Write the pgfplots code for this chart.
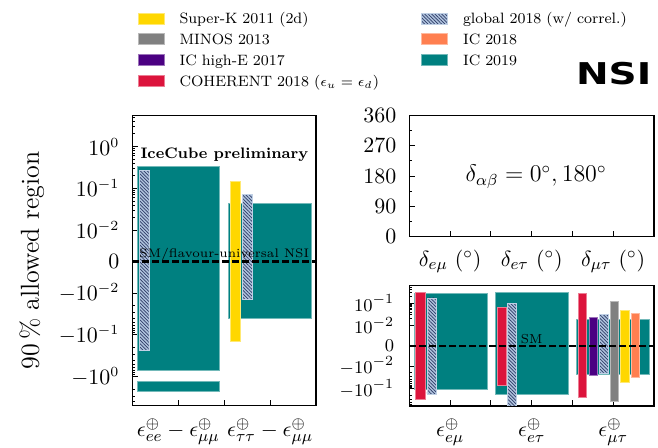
\documentclass[border=0pt]{standalone}
\usepackage{pgfplots}
\pgfplotsset{compat=1.18}
\usepackage{fontspec}
\newfontfamily\nsifont{DejaVu Sans}
\usetikzlibrary{patterns.meta}

\definecolor{cteal}{HTML}{008080}
\definecolor{cyellow}{HTML}{FFD700}
\definecolor{cgray}{HTML}{808080}
\definecolor{cpurple}{HTML}{4B0082}
\definecolor{cred}{HTML}{DC143C}
\definecolor{corange}{HTML}{FF7F50}
\definecolor{csteel}{HTML}{B0C4DE}
\definecolor{cnavy}{HTML}{2E3B66}

% symmetric-log y axis: linear inside |y|<0.01, one unit per decade outside;
% the argument is the height of the linear half-band in decade units
\newcommand\symlogresult{}
\pgfplotsset{
  symlog/.style={
    y coord trafo/.code={%
      \begingroup
      \pgfkeys{/pgf/fpu=true,/pgf/fpu/output format=fixed}%
      \pgfmathparse{abs(##1)<0.01 ? 100*#1*(##1) : ((##1)>0 ? 1 : -1)*(#1+2+ln(max(abs(##1),0.0001))/ln(10))}%
      \xdef\symlogresult{\pgfmathresult}%
      \endgroup
      \let\pgfmathresult\symlogresult
    },
    y coord inv trafo/.code={\def\pgfmathresult{##1}},
  },
  panel/.style={
    scale only axis,
    anchor=south west,
    axis line style={line width=0.7pt},
    tick align=inside,
    tick pos=left,
    major tick length=3pt,
    minor tick length=1.5pt,
    every tick/.style={black, line width=0.5pt},
    yticklabel style={font=\fontsize{10.5}{12}\selectfont, xshift=-3pt},
    xticklabel style={font=\fontsize{11}{13}\selectfont, yshift=-3pt},
    clip=true,
  },
}
\tikzset{
  errbox/.style={draw=#1!55!white, fill=#1, line width=0.4pt},
  hatchbox/.style={draw=csteel!80!white, fill=csteel, line width=0.4pt,
    postaction={pattern={Lines[angle=-45,distance=1.2pt,line width=0.35pt]}, pattern color=cnavy}},
  zeroline/.style={black, line width=1.2pt, dash pattern=on 3.3pt off 1.7pt},
}
% one allowed interval: style, x from, x to, lower bound, upper bound
\newcommand\band[5]{\addplot[#1, forget plot] coordinates {(#2,#4) (#3,#4) (#3,#5) (#2,#5)} -- cycle;}

\begin{document}
\begin{tikzpicture}
\path[use as bounding box] (0,0) rectangle (329pt,224pt);

% ---------------- diagonal NSI ----------------
\begin{axis}[panel, symlog=0.75,
  at={(66.2pt,21.2pt)}, width=91.8pt, height=145pt,
  xmin=0, xmax=4, ymin=-4.9, ymax=5.5,
  xtick={1,2,3},
  xticklabels={$\epsilon^{\oplus}_{ee}-\epsilon^{\oplus}_{\mu\mu}$,,$\epsilon^{\oplus}_{\tau\tau}-\epsilon^{\oplus}_{\mu\mu}$},
  ytick={-1,-0.1,-0.01,0,0.01,0.1,1},
  yticklabels={$-10^{0}$,$-10^{-1}$,$-10^{-2}$,$0$,$10^{-2}$,$10^{-1}$,$10^{0}$},
  minor ytick={-4,-3,-2,-0.9,-0.8,-0.7,-0.6,-0.5,-0.4,-0.3,-0.2,
    -0.09,-0.08,-0.07,-0.06,-0.05,-0.04,-0.03,-0.02,
    0.02,0.03,0.04,0.05,0.06,0.07,0.08,0.09,
    0.2,0.3,0.4,0.5,0.6,0.7,0.8,0.9,2,3,4,5},
  ylabel={90\,\% allowed region},
  every axis y label/.style={at={(axis description cs:-0.5485,0.5)}, rotate=90, anchor=center,
    font=\fontsize{13}{15}\selectfont},
  legend columns=2,
  legend cell align=left,
  legend image code/.code={\fill[#1] (0pt,-2.2pt) rectangle (13pt,3.3pt);},
  legend style={draw=none, fill=none, at={(axis description cs:0.0267,1.357)}, anchor=north west,
    font=\fontsize{7.5}{9}\selectfont, row sep=3.2pt, inner sep=0pt,
    nodes={inner sep=0pt, text height=5.6pt, text depth=1.6pt, text width=120.85pt, align=left},
    /tikz/every odd column/.style={column sep=7.5pt}},
]
\band{errbox=cteal}{0.10}{1.89}{-0.72}{0.333}
\band{errbox=cteal}{0.10}{1.89}{-2.29}{-1.32}
\band{hatchbox}{0.15}{0.36}{-0.24}{0.263}
\band{errbox=cteal}{2.09}{3.89}{-0.040}{0.043}
\band{errbox=cyellow}{2.13}{2.35}{-0.14}{0.151}
\band{hatchbox}{2.40}{2.61}{-0.014}{0.073}
\addplot[zeroline, forget plot] coordinates {(0,0) (4,0)};
\node[font=\fontsize{6.2}{7}\selectfont, anchor=center] at (rel axis cs:0.5,0.523) {SM/flavour-universal NSI};
\node[font=\fontsize{7.6}{9}\bfseries\selectfont, anchor=west, inner sep=0pt] at (rel axis cs:0.042,0.8645) {IceCube preliminary};

\addlegendimage{errbox=cyellow}\addlegendentry{Super-K 2011 (2d)}
\addlegendimage{hatchbox}\addlegendentry{global 2018 (w/ correl.)}
\addlegendimage{errbox=cgray}\addlegendentry{MINOS 2013}
\addlegendimage{errbox=corange}\addlegendentry{IC 2018}
\addlegendimage{errbox=cpurple}\addlegendentry{IC high-E 2017}
\addlegendimage{errbox=cteal}\addlegendentry{IC 2019}
\addlegendimage{errbox=cred}\addlegendentry{COHERENT 2018 ($\epsilon_u=\epsilon_d$)}
\end{axis}

% ---------------- phases ----------------
\begin{axis}[panel,
  at={(204.7pt,105.7pt)}, width=122.3pt, height=60.5pt,
  xmin=0, xmax=6, ymin=0, ymax=360,
  ytick={0,90,180,270,360}, minor ytick={45,135,225,315},
  xtick={1,2,3,4,5},
  xticklabels={$\delta_{e\mu}$ $(^\circ)$,,$\delta_{e\tau}$ $(^\circ)$,,$\delta_{\mu\tau}$ $(^\circ)$},
]
\node[font=\fontsize{12}{14}\selectfont] at (rel axis cs:0.518,0.493) {$\delta_{\alpha\beta}=0^\circ,180^\circ$};
\end{axis}

% ---------------- off-diagonal NSI ----------------
\begin{axis}[panel, symlog=0.9,
  at={(204.7pt,21pt)}, width=122.3pt, height=60.15pt,
  xmin=0, xmax=6, ymin=-0.6, ymax=0.6,
  xtick={1,2,3,4,5},
  xticklabels={$\epsilon^{\oplus}_{e\mu}$,,$\epsilon^{\oplus}_{e\tau}$,,$\epsilon^{\oplus}_{\mu\tau}$},
  ytick={-0.1,-0.01,0,0.01,0.1},
  yticklabels={$-10^{-1}$,$-10^{-2}$,$0$,$10^{-2}$,$10^{-1}$},
  yticklabel style={font=\fontsize{9.3}{10}\selectfont, inner sep=0.5pt, xshift=-4pt},
  minor ytick={-0.5,-0.4,-0.3,-0.2,-0.09,-0.08,-0.07,-0.06,-0.05,-0.04,-0.03,-0.02,
    0.02,0.03,0.04,0.05,0.06,0.07,0.08,0.09,0.2,0.3,0.4,0.5},
]
% e-mu
\band{errbox=cteal}{0.115}{1.91}{-0.11}{0.26}
\band{errbox=cred}{0.157}{0.385}{-0.30}{0.30}
\band{hatchbox}{0.43}{0.65}{-0.18}{0.17}
% e-tau
\band{errbox=cteal}{2.12}{3.90}{-0.18}{0.31}
\band{errbox=cred}{2.16}{2.37}{-0.072}{0.067}
\band{hatchbox}{2.40}{2.63}{-0.6}{0.097}
% mu-tau
\band{errbox=cteal}{4.10}{5.88}{-0.024}{0.018}
\band{errbox=cred}{4.14}{4.35}{-0.26}{0.26}
\band{errbox=cpurple}{4.41}{4.61}{-0.026}{0.023}
\band{hatchbox}{4.66}{4.88}{-0.022}{0.032}
\band{errbox=cgray}{4.92}{5.13}{-0.38}{0.115}
\band{errbox=cyellow}{5.18}{5.39}{-0.051}{0.050}
\band{errbox=corange}{5.45}{5.65}{-0.031}{0.036}
\addplot[zeroline, forget plot] coordinates {(0,0) (6,0)};
\node[font=\fontsize{6.5}{7}\selectfont] at (rel axis cs:0.5,0.554) {SM};
\end{axis}

\node[anchor=south east, inner sep=0pt, font=\nsifont\bfseries\fontsize{15}{15}\selectfont]
  at (325.85pt,181.5pt) {\scalebox{1.3}[1]{NSI}};
\end{tikzpicture}
\end{document}
